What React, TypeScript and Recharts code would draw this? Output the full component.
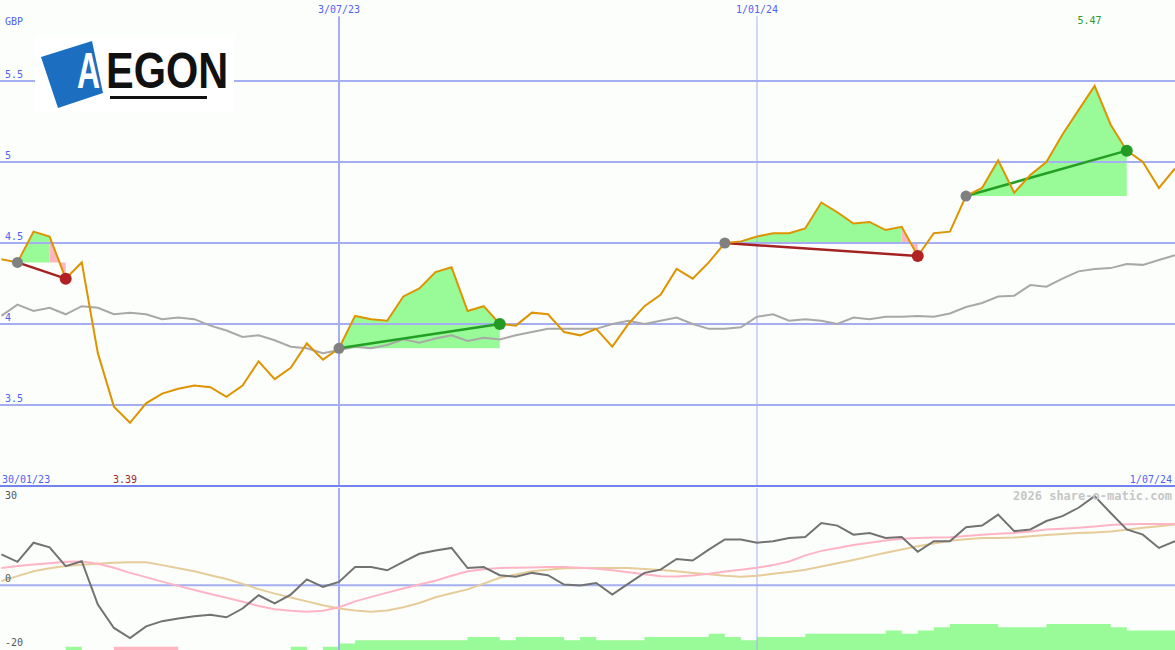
import { Area, ComposedChart, Line, ReferenceLine, XAxis, YAxis } from 'recharts'

// weekly closes, week 1 .. 74
const prices = [
  4.4, 4.38, 4.57, 4.54, 4.28, 4.38, 3.82, 3.49, 3.39, 3.51,
  3.57, 3.6, 3.62, 3.61, 3.55, 3.62, 3.77, 3.66, 3.73, 3.88,
  3.78, 3.85, 4.05, 4.03, 4.02, 4.17, 4.22, 4.32, 4.35, 4.08,
  4.11, 4.0, 3.99, 4.07, 4.06, 3.95, 3.93, 3.97, 3.86, 4.0,
  4.11, 4.18, 4.34, 4.28, 4.38, 4.5, 4.51, 4.54, 4.56, 4.56,
  4.59, 4.75, 4.69, 4.62, 4.63, 4.58, 4.6, 4.42, 4.56, 4.57,
  4.79, 4.84, 5.01, 4.81, 4.92, 5.0, 5.17, 5.32, 5.47, 5.23,
  5.07, 5.0, 4.84, 4.96
]
const avgLine = [
  4.05, 4.12, 4.08, 4.1, 4.06, 4.11, 4.1, 4.06, 4.07, 4.06,
  4.03, 4.04, 4.03, 3.99, 3.96, 3.92, 3.93, 3.9, 3.86, 3.85,
  3.82, 3.84, 3.86, 3.85, 3.87, 3.905, 3.885, 3.91, 3.93, 3.895,
  3.915, 3.905, 3.93, 3.95, 3.97, 3.97, 3.97, 3.97, 4.0, 4.02,
  4.0, 4.02, 4.04, 4.0, 3.97, 3.97, 3.98, 4.045, 4.06, 4.02,
  4.03, 4.02, 4.0, 4.04, 4.03, 4.045, 4.045, 4.05, 4.045, 4.065,
  4.105, 4.13, 4.17, 4.175, 4.24, 4.23, 4.28, 4.325, 4.34, 4.345,
  4.37, 4.365, 4.395, 4.425
]
const momentum = [
  9.5, 7.2, 13.1, 11.7, 5.9, 7.4, -6.0, -13.2, -16.3, -12.7,
  -11.1, -10.3, -9.6, -9.1, -9.9, -7.2, -3.1, -5.6, -2.9, 1.8,
  -0.5, 1.0, 5.6, 5.6, 4.6, 7.2, 9.7, 10.7, 11.5, 5.3,
  5.6, 3.1, 2.6, 3.8, 3.1, 0.2, -0.1, 0.7, -2.9, 0.5,
  3.8, 4.8, 8.1, 7.6, 11.0, 14.1, 14.1, 13.1, 13.6, 14.6,
  14.9, 19.2, 18.4, 15.6, 16.1, 14.6, 14.9, 10.3, 13.6, 13.6,
  17.9, 18.4, 21.8, 16.7, 17.2, 19.8, 21.3, 23.9, 27.5, 22.3,
  17.2, 15.6, 11.5, 13.6
]
const signalFast = [
  5.3, 5.9, 6.4, 6.8, 7.2, 7.3, 6.6, 5.4, 3.8, 2.5,
  1.1, -0.2, -1.5, -2.7, -3.9, -5.1, -6.4, -7.4, -7.9, -8.2,
  -7.9, -6.8, -5.0, -3.6, -2.3, -1.0, 0.2, 1.4, 2.9, 4.3,
  4.9, 5.3, 5.4, 5.5, 5.6, 5.6, 5.4, 5.1, 4.6, 4.0,
  3.4, 2.8, 2.7, 3.0, 3.5, 4.2, 4.8, 5.4, 6.2, 7.3,
  9.2, 10.6, 11.5, 12.4, 13.1, 13.8, 14.3, 14.6, 14.7, 14.8,
  15.2, 15.6, 15.9, 16.1, 16.6, 17.2, 17.4, 17.7, 18.1, 18.6,
  18.8, 18.9, 18.9, 18.9
]
const signalSlow = [
  1.3, 2.8, 4.3, 5.2, 5.9, 6.3, 6.6, 6.9, 7.1, 7.1,
  6.2, 5.2, 4.3, 3.1, 1.9, 0.4, -1.2, -2.6, -3.8, -5.0,
  -6.2, -7.2, -7.8, -8.2, -7.8, -6.8, -5.5, -3.7, -2.5, -1.3,
  0.5, 2.3, 3.3, 4.3, 4.8, 5.2, 5.3, 5.3, 5.3, 5.3,
  5.0, 4.7, 4.3, 3.8, 3.4, 2.9, 2.6, 2.9, 3.5, 4.1,
  4.8, 5.8, 6.8, 7.8, 8.9, 10.0, 11.0, 12.0, 12.9, 13.7,
  14.2, 14.6, 14.6, 14.7, 15.1, 15.5, 15.8, 16.1, 16.3, 16.6,
  17.1, 17.7, 18.2, 18.7
]
const greenBars = [
  0, 0, 0, 0, 1, 0, 0, 0, 0, 0,
  0, 0, 0, 0, 0, 0, 0, 0, 1, 0,
  1, 2, 3, 3, 3, 3, 3, 3, 3, 4,
  4, 3, 4, 4, 4, 3, 4, 3, 3, 3,
  4, 4, 4, 4, 5, 4, 3, 4, 4, 4,
  5, 5, 5, 5, 5, 6, 5, 6, 7, 8,
  8, 8, 7, 7, 7, 8, 8, 8, 8, 7,
  6, 6, 6, 6
]
const pinkBars = [
  0, 0, 0, 0, 0, 0, 0, 1, 1, 1,
  1, 0, 0, 0, 0, 0, 0, 0, 0, 0,
  0, 0, 0, 0, 0, 0, 0, 0, 0, 0,
  0, 0, 0, 0, 0, 0, 0, 0, 0, 0,
  0, 0, 0, 0, 0, 0, 0, 0, 0, 0,
  0, 0, 0, 0, 0, 0, 0, 0, 0, 0,
  0, 0, 0, 0, 0, 0, 0, 0, 0, 0,
  0, 0, 0, 0
]
const tradeStart = [2, 22, 46, 61]
const tradeEnd = [5, 32, 58, 71]

const priceTicks = [3.5, 4, 4.5, 5, 5.5]
const dateTicks = [22, 48]
const dateLabels = ['3/07/23', '1/01/24']
const rangeLabels = ['30/01/23', '1/07/24']
const oscTicks = [30, 0, -20]

const X_MIN = 0.914
const X_MAX = 74
const OSC_MIN = -20

const BG = '#fcfefc'
const GRID = '#a6aef2'
const SEPARATOR = '#7282ee'
const LABEL_BLUE = '#5062f0'
const MONO = '"DejaVu Sans Mono", monospace'
const LOGO_FONT = '"Liberation Sans", Arial, sans-serif'

const trades = tradeStart.map((s, k) => {
  const e = tradeEnd[k]
  const entry = prices[s - 1]
  const exit = prices[e - 1]
  return { s, e, entry, exit, win: exit > entry }
})

const rows = prices.map((price, i) => {
  const w = i + 1
  const row: Record<string, any> = {
    w,
    price,
    avg: avgLine[i],
    mom: momentum[i],
    fast: signalFast[i],
    slow: signalSlow[i],
    gBar: OSC_MIN + greenBars[i],
    pBar: OSC_MIN + pinkBars[i],
    gBand: null,
    pBand: null
  }
  trades.forEach((t, k) => {
    row[`trend${k}`] = w === t.s ? t.entry : w === t.e ? t.exit : null
    const greenEnd = t.win ? t.e : t.e - 1
    if (w >= t.s && w <= greenEnd) row.gBand = [t.entry, price]
    if (!t.win && w >= t.e - 1 && w <= t.e) row.pBand = [t.entry, price]
  })
  return row
})

const minW = prices.indexOf(Math.min(...prices)) + 1
const maxW = prices.indexOf(Math.max(...prices)) + 1
const topTicks = [X_MIN, minW, ...dateTicks, maxW, X_MAX].sort((a, b) => a - b)

function TopTick({ x, payload }: any) {
  const v = payload.value
  const di = dateTicks.indexOf(v)
  if (di >= 0) {
    return (
      <text x={x} y={13} textAnchor="middle" fontSize={10} fontFamily={MONO} fill={LABEL_BLUE}>
        {dateLabels[di]}
      </text>
    )
  }
  if (v === X_MIN || v === X_MAX) {
    const first = v === X_MIN
    return (
      <text
        x={first ? x + 2 : x - 3}
        y={483}
        textAnchor={first ? 'start' : 'end'}
        fontSize={10}
        fontFamily={MONO}
        fill={LABEL_BLUE}
      >
        {first ? rangeLabels[0] : rangeLabels[1]}
      </text>
    )
  }
  const isMax = v === maxW
  return (
    <text
      x={x - 5}
      y={isMax ? 24 : 483}
      textAnchor="middle"
      fontSize={10}
      fontFamily={MONO}
      fill={isMax ? '#2a9a2a' : '#a52222'}
    >
      {prices[v - 1].toFixed(2)}
    </text>
  )
}

function PriceTick({ y, payload }: any) {
  return (
    <text x={5} y={y - 3} fontSize={10} fontFamily={MONO} fill={LABEL_BLUE}>
      {payload.value}
    </text>
  )
}

function OscTick({ y, payload }: any) {
  const v = payload.value
  const dy = v === oscTicks[0] ? 11 : v === 0 ? -3 : -4
  return (
    <text x={5} y={y + dy} fontSize={10} fontFamily={MONO} fill="#555555">
      {v}
    </text>
  )
}

function tradeDot(k: number) {
  const t = trades[k]
  return (props: any) => {
    const { cx, cy, payload, index } = props
    if (cx == null || cy == null || payload[`trend${k}`] == null) {
      return <g key={`d${k}-${index}`} />
    }
    const isEntry = payload.w === t.s
    const fill = isEntry ? '#808080' : t.win ? '#239a23' : '#b22222'
    return <circle key={`d${k}-${index}`} cx={cx} cy={cy} r={isEntry ? 5.5 : 6} fill={fill} />
  }
}

function Logo() {
  return (
    <g>
      <rect x={35} y={36} width={199} height={76} fill="#ffffff" />
      <polygon points="41,57 92,41 103,93 58,108" fill="#1c6fc0" />
      <text
        transform="translate(77 88) scale(0.64 1)"
        fontSize={50}
        fontWeight="bold"
        fontFamily={LOGO_FONT}
        fill="#ffffff"
      >
        A
      </text>
      <text
        transform="translate(106 88) scale(0.83 1)"
        fontSize={50}
        fontWeight="bold"
        fontFamily={LOGO_FONT}
        fill="#111111"
      >
        EGON
      </text>
      <rect x={110} y={96} width={97} height={3} fill="#111111" />
    </g>
  )
}

export default function App() {
  return (
    <div
      style={{
        position: 'absolute',
        left: 0,
        top: 0,
        width: 1175,
        height: 650,
        background: BG,
        overflow: 'hidden'
      }}
    >
      <ComposedChart width={1175} height={488} data={rows} margin={{ top: 0, right: 0, bottom: 2, left: 0 }}>
        <XAxis
          dataKey="w"
          type="number"
          domain={[X_MIN, X_MAX]}
          allowDataOverflow
          orientation="top"
          mirror
          ticks={topTicks}
          interval={0}
          tick={TopTick}
          axisLine={false}
          tickLine={false}
        />
        <YAxis
          type="number"
          domain={[3, 6]}
          allowDataOverflow
          mirror
          ticks={priceTicks}
          interval={0}
          tick={PriceTick}
          axisLine={false}
          tickLine={false}
        />
        {priceTicks.map((v) => (
          <ReferenceLine key={v} y={v} stroke={GRID} strokeWidth={2} />
        ))}
        <ReferenceLine
          segment={[{ x: dateTicks[0], y: 5.9 }, { x: dateTicks[0], y: 3 }]}
          stroke={GRID}
          strokeWidth={2}
        />
        <ReferenceLine
          segment={[{ x: dateTicks[1], y: 5.9 }, { x: dateTicks[1], y: 3 }]}
          stroke={GRID}
          strokeWidth={1}
        />
        <Area dataKey="gBand" fill="#98fb98" fillOpacity={1} stroke="none" isAnimationActive={false} />
        <Area dataKey="pBand" fill="#ffb6c1" fillOpacity={1} stroke="none" isAnimationActive={false} />
        <Line
          dataKey="avg"
          stroke="#a8a8a8"
          strokeWidth={2}
          dot={false}
          activeDot={false}
          isAnimationActive={false}
        />
        {trades.map((t, k) => (
          <Line
            key={k}
            dataKey={`trend${k}`}
            stroke={t.win ? '#23a023' : '#a52222'}
            strokeWidth={2.5}
            connectNulls
            dot={tradeDot(k)}
            activeDot={false}
            isAnimationActive={false}
          />
        ))}
        <Line
          dataKey="price"
          stroke="#dd9400"
          strokeWidth={2}
          dot={false}
          activeDot={false}
          isAnimationActive={false}
        />
        <ReferenceLine y={3} stroke={SEPARATOR} strokeWidth={2} />
      </ComposedChart>

      <ComposedChart width={1175} height={162} data={rows} margin={{ top: 0, right: 0, bottom: 0, left: 0 }}>
        <XAxis dataKey="w" type="number" domain={[X_MIN, X_MAX]} allowDataOverflow hide />
        <YAxis
          type="number"
          domain={[OSC_MIN, 30]}
          allowDataOverflow
          mirror
          ticks={oscTicks}
          interval={0}
          tick={OscTick}
          axisLine={false}
          tickLine={false}
        />
        <ReferenceLine y={0} stroke={GRID} strokeWidth={2} />
        <ReferenceLine x={dateTicks[0]} stroke={GRID} strokeWidth={2} />
        <ReferenceLine x={dateTicks[1]} stroke={GRID} strokeWidth={1} />
        <Area
          type="stepAfter"
          dataKey="gBar"
          baseValue={OSC_MIN}
          fill="#98fb98"
          fillOpacity={1}
          stroke="none"
          isAnimationActive={false}
        />
        <Area
          type="stepAfter"
          dataKey="pBar"
          baseValue={OSC_MIN}
          fill="#ffb6c1"
          fillOpacity={1}
          stroke="none"
          isAnimationActive={false}
        />
        <Line dataKey="slow" stroke="#e6cc99" strokeWidth={2} dot={false} activeDot={false} isAnimationActive={false} />
        <Line dataKey="fast" stroke="#ffb4c6" strokeWidth={2} dot={false} activeDot={false} isAnimationActive={false} />
        <Line dataKey="mom" stroke="#727272" strokeWidth={2} dot={false} activeDot={false} isAnimationActive={false} />
      </ComposedChart>

      <svg
        width={1175}
        height={650}
        style={{ position: 'absolute', left: 0, top: 0, pointerEvents: 'none' }}
      >
        <text x={5} y={25} fontSize={10} fontFamily={MONO} fill={LABEL_BLUE}>
          GBP
        </text>
        <Logo />
        <text
          x={1172}
          y={500}
          textAnchor="end"
          fontSize={12}
          fontWeight="bold"
          fontFamily={MONO}
          fill="#c6c6c6"
        >
          2026 share-o-matic.com
        </text>
      </svg>
    </div>
  )
}
